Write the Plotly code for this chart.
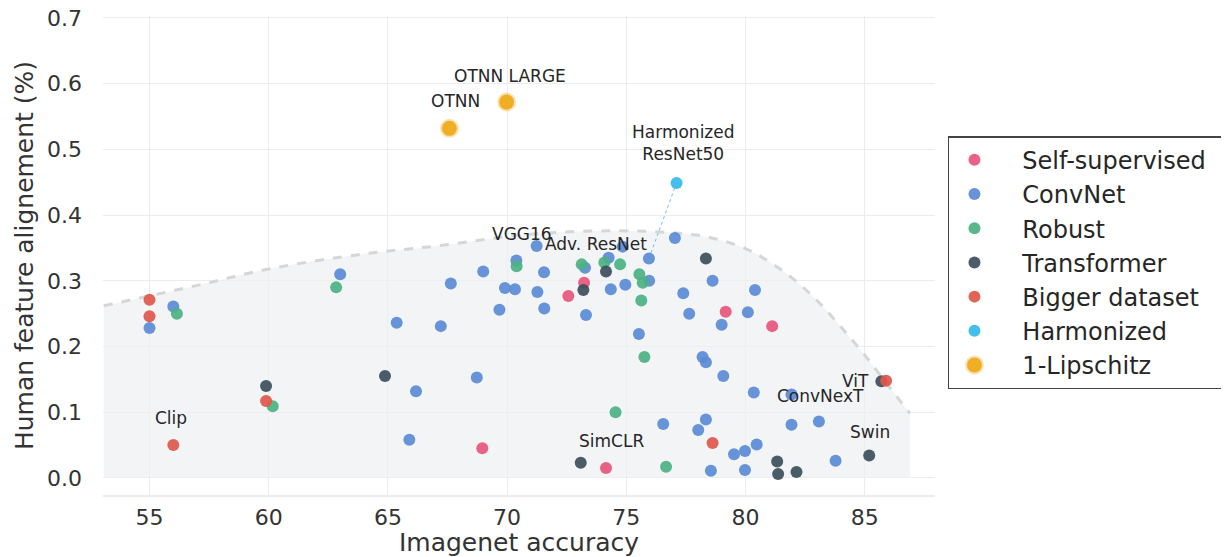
import plotly.graph_objects as go

# --------------------- Data
selfsup_x = [73.23, 72.57, 79.17, 81.12, 68.96, 74.15]
selfsup_y = [0.297, 0.277, 0.253, 0.231, 0.045, 0.015]

convnet_x = [71.24, 74.85, 77.04, 75.95, 74.26, 70.39, 69.0, 71.55, 73.27, 75.96,
             67.64, 69.91, 70.33, 71.27, 74.35, 74.96, 77.39, 78.62, 69.68, 71.56,
             73.31, 77.64, 80.1, 67.22, 79.0, 75.53, 78.2, 78.34, 79.07, 68.73,
             80.35, 81.93, 76.55, 78.34, 78.02, 78.55, 79.52, 79.98, 79.98, 80.4,
             81.93, 83.08, 83.78, 80.47, 55.0, 56.0, 63.0, 65.37, 66.18, 65.9]
convnet_y = [0.353, 0.352, 0.365, 0.334, 0.335, 0.331, 0.314, 0.313, 0.320, 0.300,
             0.296, 0.289, 0.287, 0.283, 0.287, 0.294, 0.281, 0.300, 0.256, 0.258,
             0.248, 0.250, 0.252, 0.231, 0.233, 0.219, 0.184, 0.176, 0.155, 0.153,
             0.130, 0.127, 0.082, 0.089, 0.073, 0.011, 0.036, 0.041, 0.012, 0.286,
             0.081, 0.086, 0.026, 0.051, 0.228, 0.261, 0.310, 0.236, 0.132, 0.058]

robust_x = [70.4, 73.13, 74.08, 74.74, 75.55, 75.69, 75.63, 75.76, 74.55, 76.67,
            56.15, 62.83, 60.17]
robust_y = [0.322, 0.325, 0.328, 0.325, 0.310, 0.297, 0.270, 0.184, 0.100, 0.017,
            0.250, 0.290, 0.109]

transformer_x = [78.34, 74.15, 73.2, 73.09, 85.7, 85.19, 81.33, 81.37, 82.14, 59.89, 64.88]
transformer_y = [0.334, 0.314, 0.286, 0.023, 0.147, 0.034, 0.025, 0.006, 0.009, 0.140, 0.155]

bigger_x = [55.0, 55.0, 59.89, 56.0, 78.62, 85.9]
bigger_y = [0.271, 0.246, 0.117, 0.050, 0.053, 0.148]

harmonized_x = [77.11]
harmonized_y = [0.449]

lipschitz_x = [67.58, 69.98]
lipschitz_y = [0.532, 0.572]

# ResNet50 -> Harmonized ResNet50 link
link_x = [75.95, 77.11]
link_y = [0.334, 0.449]

# upper boundary of the shaded region
boundary_x = [53.08, 57.0, 60.0, 64.0, 67.05, 70.96, 74.46, 77.0, 78.5, 80.0, 81.0,
              82.0, 83.0, 84.0, 85.0, 86.0, 86.9]
boundary_y = [0.262, 0.293, 0.318, 0.341, 0.353, 0.371, 0.376, 0.373, 0.366, 0.349, 0.329,
              0.303, 0.270, 0.230, 0.187, 0.140, 0.098]

# model labels
label_text = ["OTNN LARGE", "OTNN", "Harmonized<br>ResNet50", "VGG16", "Adv. ResNet",
              "Clip", "SimCLR", "ViT", "ConvNexT", "Swin"]
label_x = [70.12, 67.82, 77.39, 70.63, 73.73, 55.92, 74.4, 84.6, 83.13, 85.23]
label_y = [0.611, 0.573, 0.509, 0.371, 0.356, 0.091, 0.056, 0.148, 0.124, 0.070]

FONT = "DejaVu Sans, sans-serif"
NB = "\u00a0"

fig = go.Figure()

# shaded region
fig.add_trace(go.Scatter(
    x=boundary_x, y=boundary_y, mode="lines", line_shape="spline",
    line=dict(color="#d6d6d6", width=3, dash="dash"),
    fill="tozeroy", fillcolor="rgba(238,240,242,0.7)",
    showlegend=False, hoverinfo="skip"))

fig.add_trace(go.Scatter(
    x=link_x, y=link_y, mode="lines",
    line=dict(color="#5cc6ec", width=1, dash="dot"),
    showlegend=False, hoverinfo="skip"))

# --------------------- Categories
groups = [
    ("Self-supervised", selfsup_x, selfsup_y, "#e8557c"),
    ("ConvNet", convnet_x, convnet_y, "#5b8ad6"),
    ("Robust", robust_x, robust_y, "#4cb182"),
    ("Transformer", transformer_x, transformer_y, "#3c4e5b"),
    ("Bigger dataset", bigger_x, bigger_y, "#e0574b"),
    ("Harmonized", harmonized_x, harmonized_y, "#34bae9"),
]
for name, xs, ys, col in groups:
    fig.add_trace(go.Scatter(
        x=xs, y=ys, mode="markers", name=NB * 3 + name + NB * 2,
        marker=dict(color=col, size=12, opacity=0.92, line=dict(width=0))))

fig.add_trace(go.Scatter(
    x=lipschitz_x, y=lipschitz_y, mode="markers", name=NB * 3 + "1-Lipschitz",
    marker=dict(color="#f0ae25", size=15,
                line=dict(color="rgba(240,174,37,0.35)", width=4))))

for t, lx, ly in zip(label_text, label_x, label_y):
    fig.add_annotation(x=lx, y=ly, text=t, showarrow=False,
                       font=dict(family=FONT, size=17, color="#262626"))

# Axes Parameters
fig.update_xaxes(
    range=[53.05, 87.95], tickvals=[55, 60, 65, 70, 75, 80, 85],
    showgrid=True, gridcolor="#ececec", gridwidth=1, zeroline=False,
    showline=True, linecolor="#ececec", linewidth=2, mirror=False,
    automargin=False, ticks="", ticklabelstandoff=2,
    ticklabeloverflow="allow",
    tickfont=dict(family=FONT, size=22, color="#333333"),
    title_text="Imagenet accuracy", title_standoff=0,
    title_font=dict(family=FONT, size=25, color="#333333"))

fig.update_yaxes(
    range=[-0.026, 0.703], tickvals=[0, 0.1, 0.2, 0.3, 0.4, 0.5, 0.6, 0.7],
    tickformat=".1f",
    showgrid=True, gridcolor="#ececec", gridwidth=1, zeroline=False,
    showline=False, automargin=False, ticklabelstandoff=20,
    ticklabeloverflow="allow",
    tickfont=dict(family=FONT, size=22, color="#333333"),
    title_text="Human feature alignement (%)", title_standoff=6,
    title_font=dict(family=FONT, size=25, color="#333333"))

# Layout parameters (page body adds an 8px offset)
fig.update_layout(
    width=1221, height=549,
    margin=dict(l=95, r=294, t=8, b=62, autoexpand=False),
    plot_bgcolor="white", paper_bgcolor="white",
    font=dict(family=FONT, color="#262626"),
    legend=dict(
        x=1.0156, xanchor="left", y=0.749, yanchor="top",
        bgcolor="white", bordercolor="#444444", borderwidth=1.5,
        font=dict(family=FONT, size=24, color="#262626"),
        itemwidth=40, tracegroupgap=0),
)

fig.write_html("out.html")
